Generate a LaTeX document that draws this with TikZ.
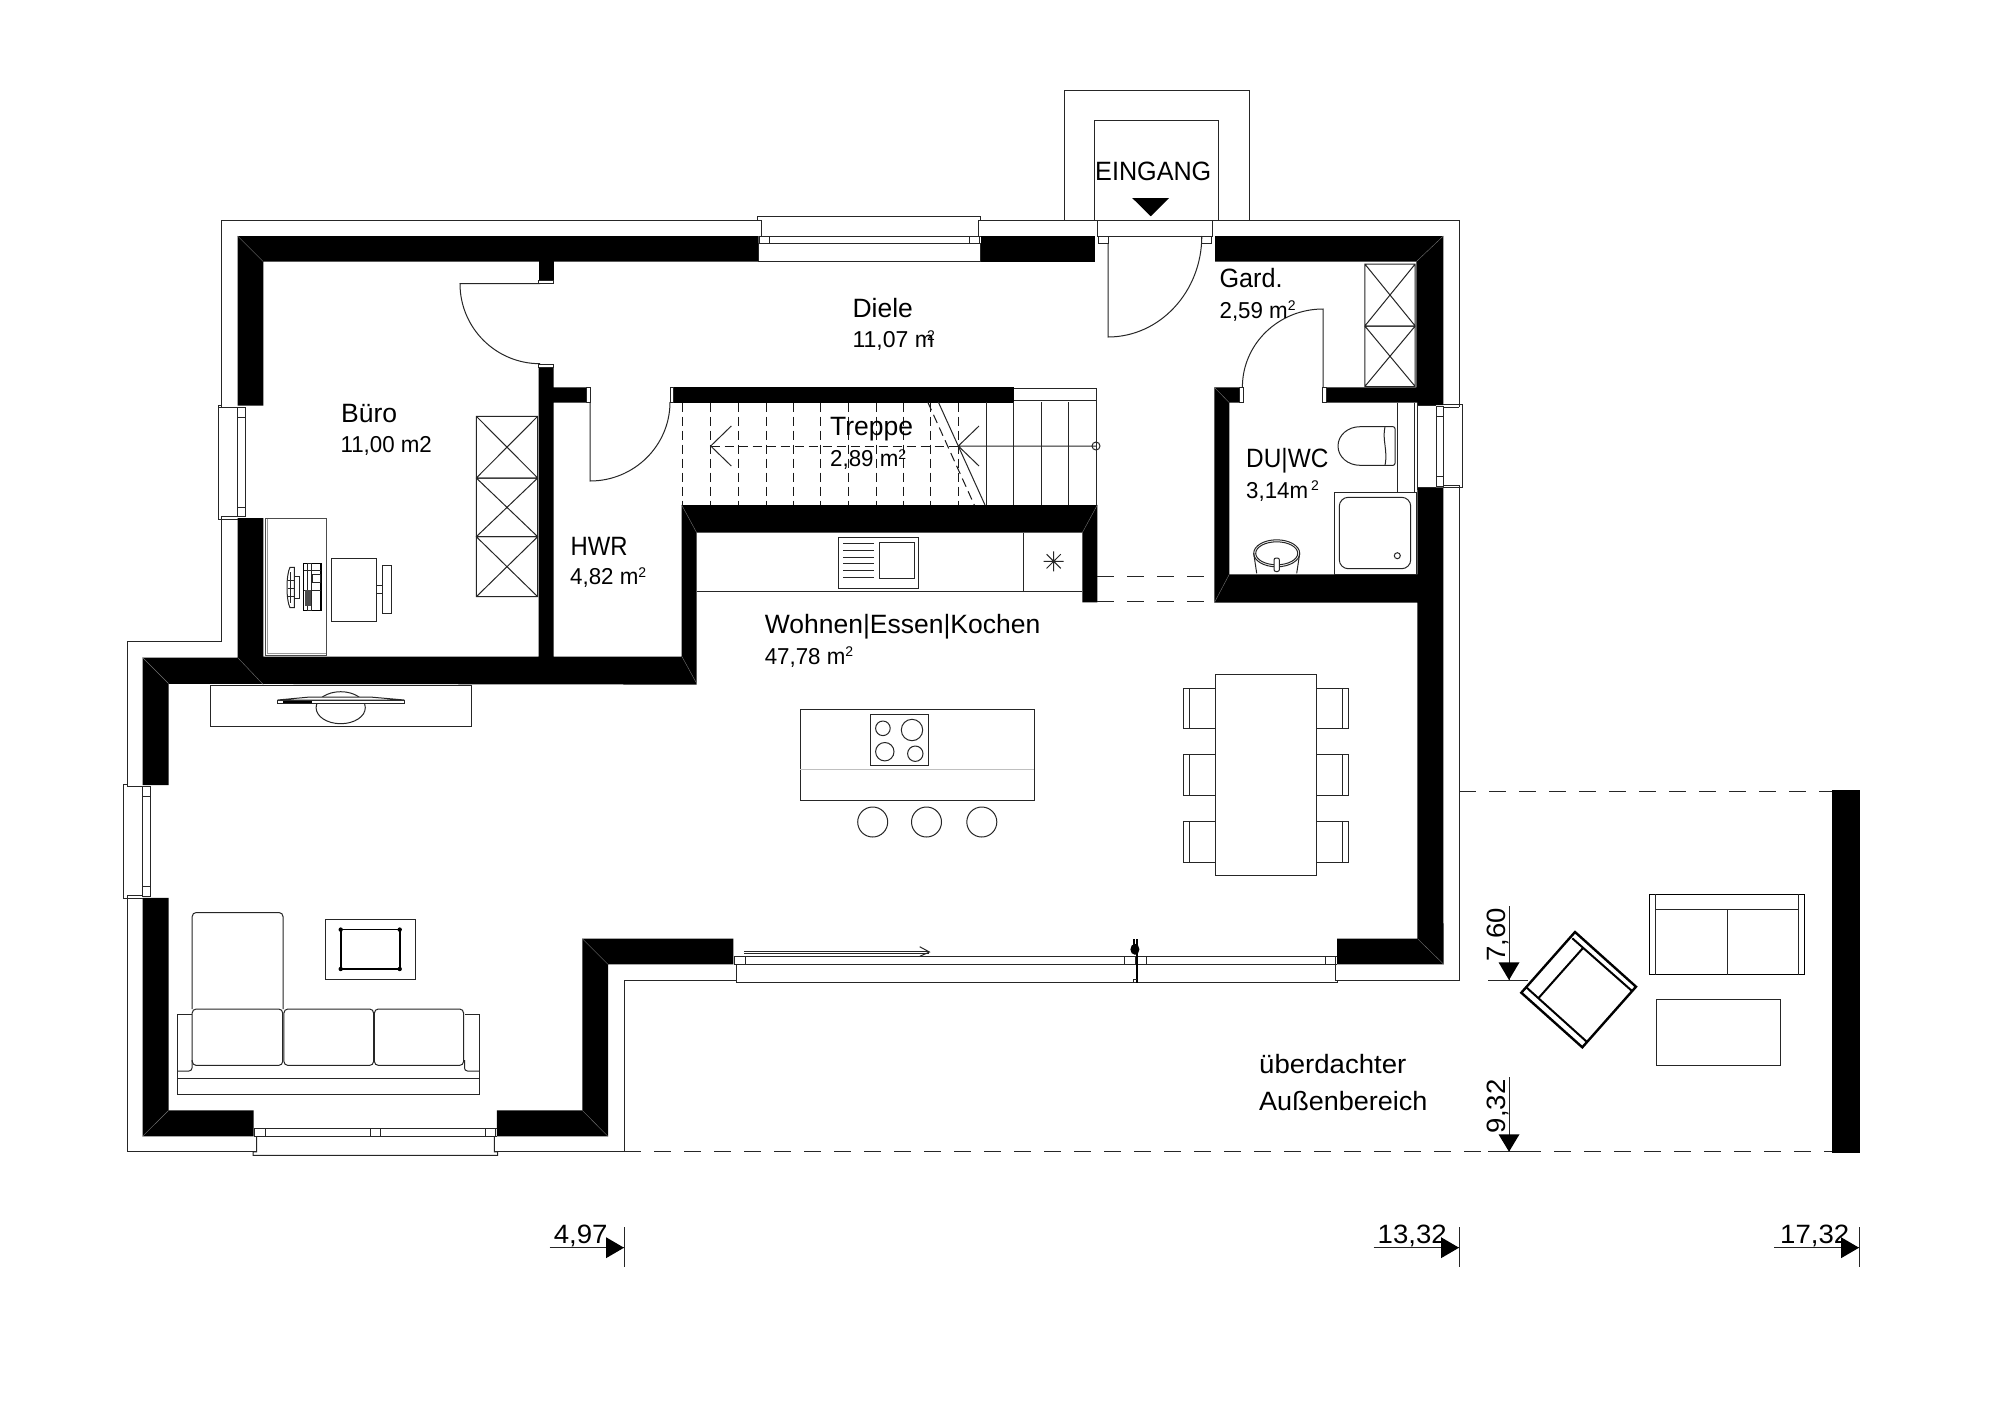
\documentclass[tikz,border=0pt]{standalone}
\usepackage{fontspec}
\setmainfont{Liberation Sans}
\tikzset{
  wall/.style={fill=black,draw=none},
  thin/.style={draw=black!85,line width=1pt},
  med/.style={draw=black,line width=1.3pt},
  mit/.style={draw=black!55,line width=0.4pt},
  lbl/.style={anchor=base west,inner sep=0pt,font=\fontsize{26.5}{30}\selectfont},
  sub/.style={anchor=base west,inner sep=0pt,font=\fontsize{23}{30}\selectfont},
  dsh/.style={draw=black!85,line width=1pt,dash pattern=on 17pt off 13pt},
  sdsh/.style={draw=black!90,line width=1pt,dash pattern=on 9pt off 5pt}
}
\newcommand{\sq}{\raisebox{7.5pt}{\fontsize{14}{14}\selectfont 2}}
\newcommand{\xbox}[4]{\draw[thin] (#1,#2) rectangle (#3,#4) (#1,#2)--(#3,#4) (#1,#4)--(#3,#2);}
\newcommand{\wscale}[2]{\scalebox{#1}[1]{#2}}
\begin{document}
\begin{tikzpicture}[x=1pt,y=-1pt]
\useasboundingbox[fill=white] (0,0) rectangle (2000,1414);
% ---- black walls
\fill[wall] (237.6,405.7)--(237.6,236)--(758.6,236)--(758.6,261.6)--(263.3,261.6)--(263.3,405.7)--cycle;
\fill[wall] (980.8,236)--(1094.9,236)--(1094.9,261.6)--(980.8,261.6)--cycle;
\fill[wall] (1215,236)--(1443.3,236)--(1443.3,405)--(1417.3,405)--(1417.3,402.7)--(1326.7,402.7)--(1326.7,387.3)--(1416.3,387.3)--(1416.3,261.6)--(1215,261.6)--cycle;
\fill[wall] (538.6,279.6)--(538.6,261)--(553.7,261)--(553.7,279.6)--cycle;
% Buero lower wall, south wall, HWR wall
\fill[wall] (237.6,518)--(263.3,518)--(263.3,656.5)--(538.6,656.5)--(538.6,367.8)--(553.7,367.8)--(553.7,387.3)--(586,387.3)--(586,402.5)--(553.7,402.5)--(553.7,656.5)--(681.7,656.5)--(681.7,505)--(1097.3,505)--(1097.3,602.3)--(1082.3,602.3)--(1082.3,532.7)--(696.7,532.7)--(696.7,684.6)--(168.6,683.8)--(168.6,785)--(142.5,785)--(142.5,657.5)--(237.6,657.5)--cycle;
\fill[wall] (673,387.3)--(1014,387.3)--(1014,402.7)--(673,402.7)--cycle;
% left lower + south walls
\fill[wall] (142.5,897.9)--(168.6,897.9)--(168.6,1110.4)--(253.6,1110.4)--(253.6,1136.4)--(142.5,1136.4)--cycle;
\fill[wall] (496.9,1110.4)--(582.3,1110.4)--(582.3,938.6)--(733.4,938.6)--(733.4,964.3)--(608,964.3)--(608,1136.4)--(496.9,1136.4)--cycle;
% bath + east
\fill[wall] (1239.3,387.3)--(1214.3,387.3)--(1214.3,602.7)--(1417.3,602.7)--(1417.3,938.7)--(1337,938.7)--(1337,964.3)--(1443.5,964.3)--(1443.3,487.3)--(1417.3,487.3)--(1417.3,574.3)--(1229.3,574.3)--(1229.3,402.7)--(1239.3,402.7)--cycle;
% terrace wall
\fill[wall] (1832.3,790.3) rectangle (1860.3,1153.3);
% mitres
\draw[mit] (237.6,236)--(263.3,261.6) (237.6,657.5)--(263.3,684.6) (142.5,657.5)--(168.6,683.6) (682,656.7)--(696.8,683.7) (681.7,505)--(696.7,532.7) (1097.3,505)--(1082.3,532.7) (1214.3,387.3)--(1229.3,402.7) (1214.3,602.7)--(1229.3,574.3) (1443.3,236)--(1416.3,261.6) (1443.7,964.3)--(1417.5,938.7) (142.5,1136.4)--(168.6,1110.4) (608,1136.4)--(582.3,1110.4) (582.3,938.6)--(608,964.3);
% ---- outer thin outline
\draw[thin] (761.4,220)--(221.6,220)--(221.6,407.8);
\draw[thin] (221.6,516.3)--(221.6,641.6)--(127,641.6)--(127,786.4);
\draw[thin] (127,895.4)--(127,1151.8)--(256.6,1151.8);
\draw[thin] (494.4,1151.8)--(624,1151.8) (624,1151.8)--(624,980)--(736,980);
\draw[thin] (978,220)--(1459,220)--(1459,407);
\draw[thin] (1459,485)--(1459,980)--(1335,980);
% dashed
\draw[dsh] (624,1151.7)--(1832,1151.7);
\draw[dsh] (1459,791.7)--(1832,791.7);
\draw[dsh] (1097.3,576)--(1214,576) (1097.3,601)--(1214,601);
% ---- windows
% west Buero
\draw[thin] (221.6,407.8)--(218.3,407.8)--(218.3,405.3)--(221.6,405.3) (237.6,407.8)--(221.6,407.8) (218.3,407.8)--(218.3,519.2)--(237.6,519.2) (221.6,516.3)--(237.6,516.3);
\draw[thin] (237.6,407.8) rectangle (245.2,516.3) (237.6,417.6)--(245.2,417.6) (237.6,507)--(245.2,507);
% west living
\draw[thin] (123.6,784.3)--(127,784.3) (127,786.4)--(142.5,786.4) (123.6,784.3)--(123.6,898.2)--(142.5,898.2) (127,895.4)--(142.5,895.4);
\draw[thin] (142.5,786) rectangle (150.5,896.4) (142.5,796.4)--(150.5,796.4) (142.5,886.4)--(150.5,886.4);
% south
\draw[thin] (253.6,1128.2)--(496.9,1128.2) (253.6,1136.4)--(496.9,1136.4);
\draw[thin] (254.9,1128.2)--(254.9,1136.4) (265.4,1128.2)--(265.4,1136.4) (370.2,1128.2)--(370.2,1136.4) (380.3,1128.2)--(380.3,1136.4) (485.5,1128.2)--(485.5,1136.4) (495.6,1128.2)--(495.6,1136.4);
\draw[thin] (256.6,1136.4)--(256.6,1151.8)--(253.2,1152)--(253.2,1155.4)--(497.7,1155.4)--(497.7,1152)--(494.4,1151.8)--(494.4,1136.4);
% north Diele
\draw[thin] (761.4,236)--(761.4,220)--(757.5,220)--(757.5,216.7)--(980.8,216.7)--(980.8,220)--(978,220)--(978,236);
\draw[thin] (758.6,236.3)--(980.8,236.3) (758.6,243.3)--(980.8,243.3) (759.7,236.3)--(759.7,243.3) (769.6,236.3)--(769.6,243.3) (969,236.3)--(969,243.3) (979,236.3)--(979,243.3);
\draw[thin] (758.6,243.3)--(758.6,261.3)--(980.8,261.3)--(980.8,243.3);
% east bath
\draw[thin] (1443.3,404.3)--(1462,404.3)--(1462,487.3)--(1443.3,487.3) (1443.3,407)--(1459,407) (1443.3,485)--(1459,485);
\draw[thin] (1436,406.7) rectangle (1443.3,486) (1436,416)--(1443.3,416) (1436,476)--(1443.3,476);
\draw[thin] (1417.3,405)--(1436,405) (1417.3,487.3)--(1436,487.3);
\draw[thin] (1417.3,402.7)--(1417.3,490) (1414.7,402.7)--(1414.7,492.7) (1397.7,402.7)--(1397.7,492.7);
% sliding door
\draw[thin] (733.6,956.7)--(1337,956.7) (733.6,964.3)--(1337,964.3);
\draw[thin] (734.5,956.7)--(734.5,964.3) (745.2,956.7)--(745.2,964.3) (1124.8,956.7)--(1124.8,964.3) (1135.9,956.7)--(1135.9,964.3) (1146,956.7)--(1146,964.3) (1325.4,956.7)--(1325.4,964.3) (1335.6,956.7)--(1335.6,964.3);
\draw[thin] (736,964.3)--(736,982.7)--(1337.6,982.7)--(1337.6,980) (1335,964.3)--(1335,980);
\draw[med] (1136.9,949)--(1136.9,982.7) (1134,939.3)--(1134,949) (1137,939.3)--(1137,949);
\fill (1134.9,949.3) ellipse[x radius=4.5pt,y radius=5.5pt];
\draw[thin] (1133,982.7)--(1133,979.5)--(1136.9,979.5);
\draw[draw=black!85,line width=.8pt] (744.2,951)--(929.4,951) (744.2,953.2)--(929.4,953.2);
\draw[thin] (919.7,946.7)--(929.4,952)--(919.7,956.3);
% ---- entrance
\draw[thin] (1064.7,220)--(1064.7,90.2)--(1249,90.2)--(1249,220);
\draw[thin] (1094.9,220)--(1094.9,120.4)--(1218.8,120.4)--(1218.8,220);
\fill (1132.2,198)--(1169,198)--(1150.8,216.3)--cycle;
\draw[thin] (1094.9,220)--(1215,220) (1097,220)--(1097,236)--(1212.8,236)--(1212.8,220);
\draw[thin] (1098.7,236) rectangle (1108,243.3) (1201.8,236) rectangle (1211,243.3);
\draw[thin] (1108,243.3)--(1108,337) .. controls (1159.8,337) and (1201.8,291.8) .. (1201.8,236);
% ---- other doors
\draw[thin] (540,283.7)--(460,283.7) .. controls (460,327.9) and (495.8,363.7) .. (540,363.7);
\draw[thin] (538.6,280.4) rectangle (553.7,283.7) (538.6,364) rectangle (553.7,367.8);
\draw[thin] (586,387.3) rectangle (590.3,402.5) (670,387.3) rectangle (673,402.7);
\draw[thin] (590,402.5)--(590,481) .. controls (634.2,481) and (670,445.6) .. (670,402);
\draw[thin] (1239.3,387.3) rectangle (1243.3,402.7) (1322.3,387.3) rectangle (1326.7,402.7);
\draw[thin] (1323,387.3)--(1323,309) .. controls (1278.5,309) and (1242.4,344) .. (1242.4,387);
% ---- closets
\xbox{476.3}{416.3}{537.7}{478}
\xbox{476.3}{478}{537.7}{536.7}
\xbox{476.3}{536.7}{537.7}{596.7}
\xbox{1364.8}{264}{1415.2}{326}
\xbox{1364.8}{326}{1415.2}{386.5}
% ---- stairs
\draw[thin] (1014,388.7)--(1096,388.7)--(1096,505) (1014,400.7)--(1096,400.7);
\foreach \x in {986,1013.3,1041,1068.3} \draw[thin] (\x,402)--(\x,505);
\foreach \x in {682.7,710.7,738.3,766,793.3,820.7,848.3,876,903.3,930.7,958.3} \draw[sdsh] (\x,402.7)--(\x,505);
\draw[sdsh] (710.7,446)--(958,446);
\draw[thin] (731.3,426)--(710.7,446)--(731.3,466);
\draw[thin] (958.3,446)--(1096,446) (979,426)--(958.3,446)--(979,466);
\draw[thin] (1096,446) circle[radius=4pt];
\draw[thin] (938.3,402)--(985,505);
\draw[sdsh] (927.7,402)--(974.3,505);
% ---- kitchen
\draw[thin] (696.7,591)--(1082.3,591) (1023.7,532.7)--(1023.7,591);
\draw[thin] (838.3,537.7) rectangle (918.7,588.3);
\draw[thin] (879.3,542.7) rectangle (914,578.7);
\foreach \y in {543.3,550.3,557,563.7,570.7,577.7} \draw[thin] (843.3,\y)--(874,\y);
\draw[thin] (1043.7,561.3)--(1063.7,561.3) (1053.7,551.3)--(1053.7,571.3) (1046.6,554.2)--(1060.8,568.4) (1046.6,568.4)--(1060.8,554.2);
% island
\draw[thin] (800,709.7) rectangle (1034,800.3);
\draw[draw=black!25,line width=0.8pt] (800,769.7)--(1034,769.7);
\draw[thin] (870.3,714.3) rectangle (928.4,765.7);
\draw[thin] (882.9,728.3) circle[radius=7.3pt] (912,730) circle[radius=10.7pt] (884.8,751.7) circle[radius=9.2pt] (915.3,753.7) circle[radius=7.7pt];
\foreach \x in {872.7,926.5,981.8} \draw[thin] (\x,822) circle[radius=15pt];
% dining
\draw[thin] (1215.4,674.3) rectangle (1316.2,875.3);
\foreach \a/\b in {688/728.7,754.7/795.3,821.3/862}{
  \draw[thin] (1215.4,\a)--(1183.4,\a)--(1183.4,\b)--(1215.4,\b) (1189.2,\a)--(1189.2,\b);
  \draw[thin] (1316.2,\a)--(1348.2,\a)--(1348.2,\b)--(1316.2,\b) (1342.4,\a)--(1342.4,\b);
}
% ---- bath fixtures
\draw[thin,rounded corners=2pt] (1385,426.7)--(1395,426.7)--(1395,465.3)--(1385,465.3);
\draw[thin] (1385,426.7)--(1360,426.7) .. controls (1348,426.7) and (1338,435) .. (1338,446) .. controls (1338,457) and (1348,465.3) .. (1360,465.3)--(1385,465.3);
\draw[thin] (1385,426.7) .. controls (1382,440) and (1388,450) .. (1385,465.3);
\draw[thin] (1334.3,492.7) rectangle (1416.7,574);
\draw[thin,rounded corners=9pt] (1339.3,497.3) rectangle (1410.7,568.7);
\draw[thin] (1397.3,555.7) circle[radius=3pt];
\draw[thin] (1276.7,553.3) ellipse[x radius=23pt,y radius=13.5pt];
\draw[thin] (1276.7,553.3) ellipse[x radius=21pt,y radius=11.5pt];
\draw[thin] (1253.7,553.3)--(1256.7,573.3) (1299.7,553.3)--(1296.7,573.3);
\draw[thin,rounded corners=2pt,fill=white] (1274,558)rectangle(1279.4,571.5);
% ---- Buero furniture
\draw[draw=black!70,line width=1pt] (265.4,518.8) rectangle (326,655);
\draw[draw=black!40,line width=.6pt] (266.8,518.8)--(266.8,653.5)--(326,653.5);
\draw[thin] (331.5,558.4) rectangle (376.5,621.2);
\draw[thin] (382.8,565.7) rectangle (391.2,613);
\draw[thin] (376.5,585.7) rectangle (382.8,593.9);
\draw[med] (303.7,563.3) rectangle (321,610.6);
\draw[thin] (307.5,563.3) rectangle (311.5,610.6);
\draw[thin] (303.7,570)--(321,570) (303.7,590)--(321,590) (312,574) rectangle (320,582);
\fill[black!70] (304.5,590) rectangle (311,606);
\draw[thin] (294.4,576.7) rectangle (299,598);
\draw[thin] (294.4,567.3)--(294.4,607.7)--(290,607.7) .. controls (286,600) and (286,575) .. (290,567.3)--cycle;
\draw[thin] (290,572)--(290,603) (287.5,580)--(294,580) (287.5,588)--(294,588) (287.5,596)--(294,596);
% ---- living furniture
\draw[thin] (210.3,685.7) rectangle (471.2,726.4);
\draw[thin] (340.7,707.7) ellipse[x radius=24.6pt,y radius=16pt];
\fill[white] (315,697) rectangle (366,700);
\draw[thin,fill=white] (277.6,700)--(277.6,703.2)--(404.3,703.2)--(404.3,700)--cycle;
\draw[thin,fill=white] (277.6,700)--(310,697)--(370,697)--(404.3,700)--cycle;
\fill (283,700.6) rectangle (312,702.6);
\draw[thin,rounded corners=4pt] (192.2,1009)--(192.2,912.5)--(283,912.5)--(283,1009);
\draw[thin,rounded corners=4pt] (192.2,1009) rectangle (282.7,1065.4);
\draw[thin,rounded corners=4pt] (283.9,1009) rectangle (373.6,1065.4);
\draw[thin,rounded corners=4pt] (374.4,1009) rectangle (463.6,1065.4);
\draw[thin] (177,1014)--(192.2,1014) (464.5,1014)--(479.6,1014);
\draw[thin] (177,1014)--(177,1094.3)--(479.6,1094.3)--(479.6,1014);
\draw[thin] (177,1078.6)--(479.6,1078.6);
\draw[thin,rounded corners=3pt] (177,1071)--(192,1071)--(192,1060);
\draw[thin,rounded corners=3pt] (479.6,1071)--(464.5,1071)--(464.5,1060);
\draw[thin] (325.2,919) rectangle (415.7,979.3);
\draw[draw=black,line width=1.6pt] (340.7,929.6) rectangle (399.7,969);
\foreach \x/\y in {340.7/929.6,399.7/929.6,340.7/969,399.7/969} \fill (\x,\y) circle[radius=2.2pt];
% ---- terrace furniture
\draw[draw=black,line width=2.4pt] (1575,932)--(1636,986.7)--(1582.3,1047.3)--(1521.3,992.7)--cycle;
\draw[draw=black,line width=2pt] (1526.3,987.3)--(1586.7,1041.7) (1572.3,938.3)--(1631.7,990.7) (1538.3,998.3)--(1582.7,948.3);
\draw[med] (1649.3,894.3) rectangle (1804.7,974.7);
\draw[thin] (1655.7,894.3)--(1655.7,974.7) (1798.7,894.3)--(1798.7,974.7) (1655.7,909.3)--(1798.7,909.3) (1727.3,909.3)--(1727.3,974.7);
\draw[thin] (1656.7,999.7) rectangle (1780.3,1065.3);
% ---- dimensions
\draw[thin] (549.7,1247.7)--(624,1247.7) (624,1227)--(624,1267);
\fill (624,1247.7)--(606,1237.2)--(606,1258.2)--cycle;
\draw[thin] (1373.7,1247.7)--(1459,1247.7) (1459,1227)--(1459,1267);
\fill (1459,1247.7)--(1441,1237.2)--(1441,1258.2)--cycle;
\draw[thin] (1774,1247.7)--(1859,1247.7) (1859,1227)--(1859,1267);
\fill (1859,1247.7)--(1841,1237.2)--(1841,1258.2)--cycle;
\draw[thin] (1509,906)--(1509,980) (1488.3,980)--(1528.3,980);
\fill (1509,980)--(1498.5,962.3)--(1519.5,962.3)--cycle;
\draw[thin] (1509,1077.3)--(1509,1151.7) (1488.3,1151.7)--(1528.3,1151.7);
\fill (1509,1151.7)--(1498.5,1134.3)--(1519.5,1134.3)--cycle;
% ---- labels
\node[lbl] (einTxt) at (1095,180.4) {\wscale{.95}{EINGANG}};
\node[lbl] (dieleA) at (852.4,317) {Diele};
\node[sub] (dieleB) at (852.4,347.8) {11,07 m\kern-7pt\sq};
\node[lbl] (gardA) at (1219.4,287) {\wscale{.95}{Gard.}};
\node[sub] (gardB) at (1219.4,318) {\wscale{.97}{2,59 m}\sq};
\node[lbl] (bueroA) at (341,422.9) {Büro};
\node[sub] (bueroB) at (340.3,452) {\wscale{.97}{11,00 m2}};
\node[lbl] (trepA) at (830,435.7) {Treppe};
\node[sub] (trepB) at (830,466.7) {\wscale{.97}{2,89 m}\sq};
\node[lbl] (duA) at (1246,467.7) {\wscale{.92}{DU|WC}};
\node[sub] (duB) at (1246,498) {\wscale{.97}{3,14m}\kern3pt\sq};
\node[lbl] (hwrA) at (570.5,555) {\wscale{.9}{HWR}};
\node[sub] (hwrB) at (570,584.5) {\wscale{.97}{4,82 m}\sq};
\node[lbl] (wohnA) at (764.6,633.5) {Wohnen|Essen|Kochen};
\node[sub] (wohnB) at (764.6,664) {\wscale{.97}{47,78 m}\sq};
\node[lbl] (ausA) at (1259,1073) {\wscale{1.04}{überdachter}};
\node[lbl] (ausB) at (1259,1110) {\wscale{1.02}{Außenbereich}};
\node[lbl] (d1) at (553.6,1243) {\wscale{1.04}{4,97}};
\node[lbl] (d2) at (1377.5,1243) {\wscale{1.04}{13,32}};
\node[lbl] (d3) at (1780,1243) {\wscale{1.04}{17,32}};
\node[lbl,rotate=90] (d4) at (1505,961.7) {\wscale{1.04}{7,60}};
\node[lbl,rotate=90] (d5) at (1505,1133.3) {\wscale{1.04}{9,32}};
\end{tikzpicture}
\end{document}
